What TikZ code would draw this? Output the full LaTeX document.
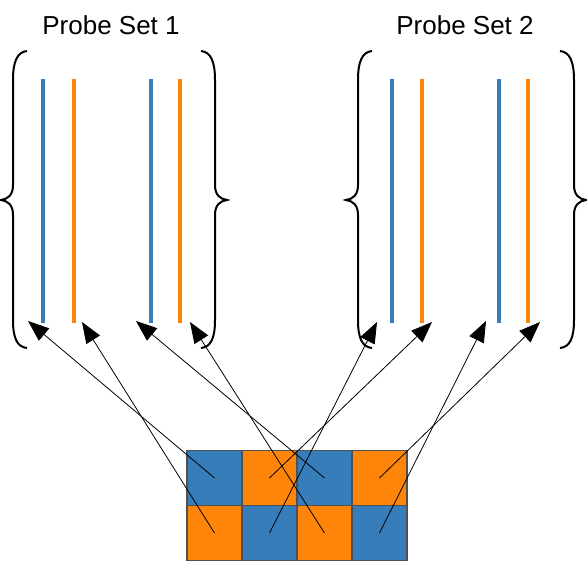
\documentclass[tikz,border=0pt]{standalone}
\usepackage{fontspec}
\setmainfont{Liberation Sans}
\usetikzlibrary{arrows.meta}

\definecolor{probeblue}{RGB}{55,125,185}
\definecolor{probeorange}{RGB}{255,133,10}
\definecolor{cellborder}{RGB}{80,80,80}

\tikzset{
  cell/.style={draw=cellborder, line width=1.8pt, minimum size=55pt, inner sep=0pt},
  probe/.style={line width=4.2pt},
  link/.style={-{Triangle[length=21pt,width=16pt]}, line width=0.8pt},
  settitle/.style={anchor=base, font=\fontsize{26}{30}\selectfont},
  probebrace/.pic={
    \draw[line width=2pt] (0,0) .. controls (-10,1) and (-14,11) .. (-14,29) -- (-14,134)
      .. controls (-14,144) and (-19,148) .. (-26,149) .. controls (-19,150) and (-14,154) .. (-14,164)
      -- (-14,269) .. controls (-14,287) and (-10,296) .. (0,297);
  }
}

\begin{document}
\begin{tikzpicture}[x=1pt, y=-1pt]
    \useasboundingbox (0,0) rectangle (587,561);

    % titles
    \node[settitle] (title1) at (111,35) {Probe Set 1};
    \node[settitle] (title2) at (465,35) {Probe Set 2};

    % braces round each set
    \pic at (27,51) {probebrace};
    \pic[xscale=-1] at (201,51) {probebrace};
    \pic at (372,51) {probebrace};
    \pic[xscale=-1] at (560,51) {probebrace};

    % probes
    \draw[probe, probeblue]   (43,79) -- (43,323);
    \draw[probe, probeorange] (74,79) -- (74,323);
    \draw[probe, probeblue]   (151,79) -- (151,323);
    \draw[probe, probeorange] (180,79) -- (180,323);
    \draw[probe, probeblue]   (392,79) -- (392,323);
    \draw[probe, probeorange] (422,79) -- (422,323);
    \draw[probe, probeblue]   (499,79) -- (499,323);
    \draw[probe, probeorange] (528,79) -- (528,323);

    \coordinate (t1) at (28,321);
    \coordinate (t2) at (82,322);
    \coordinate (t3) at (136,321);
    \coordinate (t4) at (190,322);
    \coordinate (t5) at (377,322);
    \coordinate (t6) at (432,322);
    \coordinate (t7) at (486,321);
    \coordinate (t8) at (540,322);

    % array cells
    \node[cell, fill=probeblue]   (c11) at (214.5,478) {};
    \node[cell, fill=probeorange] (c12) at (269.5,478) {};
    \node[cell, fill=probeblue]   (c13) at (324.5,478) {};
    \node[cell, fill=probeorange] (c14) at (379.5,478) {};
    \node[cell, fill=probeorange] (c21) at (214.5,533) {};
    \node[cell, fill=probeblue]   (c22) at (269.5,533) {};
    \node[cell, fill=probeorange] (c23) at (324.5,533) {};
    \node[cell, fill=probeblue]   (c24) at (379.5,533) {};

    % cell to probe
    \draw[link] (c11.center) -- (t1);
    \draw[link] (c21.center) -- (t2);
    \draw[link] (c13.center) -- (t3);
    \draw[link] (c23.center) -- (t4);
    \draw[link] (c22.center) -- (t5);
    \draw[link] (c12.center) -- (t6);
    \draw[link] (c24.center) -- (t7);
    \draw[link] (c14.center) -- (t8);
\end{tikzpicture}
\end{document}
